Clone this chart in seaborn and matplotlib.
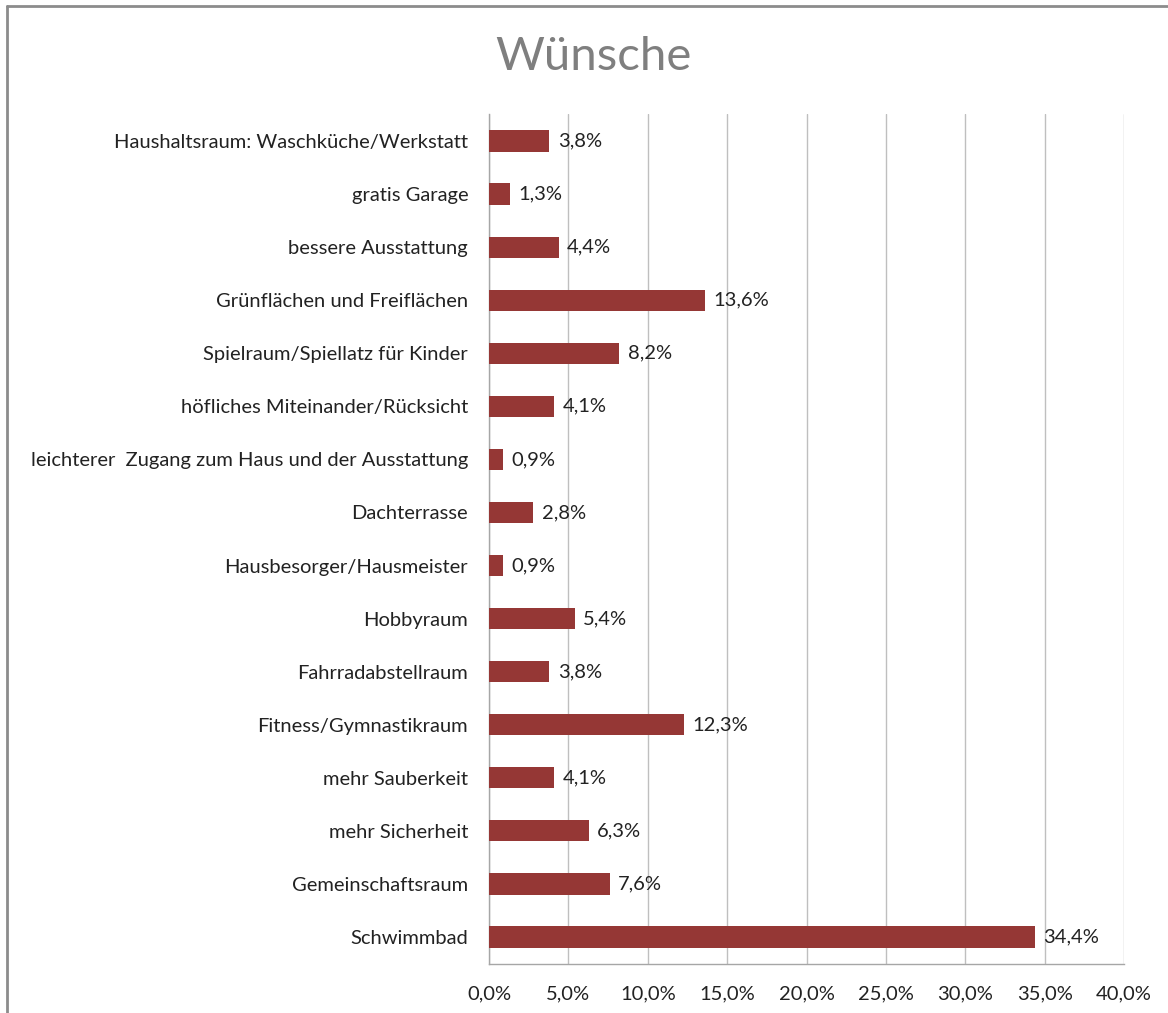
import matplotlib
matplotlib.use("Agg")
import matplotlib.pyplot as plt
import seaborn as sns
import pandas as pd
from matplotlib.ticker import FuncFormatter, MultipleLocator
from matplotlib.lines import Line2D

categories = [
    "Haushaltsraum: Waschküche/Werkstatt",
    "gratis Garage",
    "bessere Ausstattung",
    "Grünflächen und Freiflächen",
    "Spielraum/Spiellatz für Kinder",
    "höfliches Miteinander/Rücksicht",
    "leichterer  Zugang zum Haus und der Ausstattung",
    "Dachterrasse",
    "Hausbesorger/Hausmeister",
    "Hobbyraum",
    "Fahrradabstellraum",
    "Fitness/Gymnastikraum",
    "mehr Sauberkeit",
    "mehr Sicherheit",
    "Gemeinschaftsraum",
    "Schwimmbad",
]
values = [3.8, 1.3, 4.4, 13.6, 8.2, 4.1, 0.9, 2.8, 0.9, 5.4, 3.8, 12.3, 4.1, 6.3, 7.6, 34.4]
title = "Wünsche"

df = pd.DataFrame({"Kategorie": categories, "Anteil": values})

sns.set_theme(style="white")
plt.rcParams["font.family"] = ["Lato", "DejaVu Sans"]

fig = plt.figure(figsize=(11.68, 10.13), dpi=100)
ax = fig.add_axes([489 / 1168, 1 - 963.5 / 1013, (1124 - 489) / 1168, (963.5 - 114.5) / 1013])

sns.barplot(data=df, x="Anteil", y="Kategorie", order=categories, color="#953735",
            saturation=1, width=0.4, linewidth=0, ax=ax, zorder=3)

ax.set_xlim(0, 40)
ax.xaxis.set_major_locator(MultipleLocator(5))
ax.xaxis.set_major_formatter(FuncFormatter(lambda v, p: f"{v:.1f}%".replace(".", ",")))
ax.grid(axis="x", color="#BFBFBF", linewidth=1, zorder=0)
ax.set_axisbelow(True)
ax.set_xlabel("")
ax.set_ylabel("")
for side in ["top", "right"]:
    ax.spines[side].set_visible(False)
for side in ["left", "bottom"]:
    ax.spines[side].set_color("#A6A6A6")
    ax.spines[side].set_linewidth(1)
ax.tick_params(axis="both", length=0, labelsize=14.5, colors="#222222")
ax.tick_params(axis="x", pad=16)
ax.tick_params(axis="y", pad=15)

for c in ax.containers:
    ax.bar_label(c, labels=[f"{v:.1f}%".replace(".", ",") for v in values],
                 padding=6, fontsize=14.5, color="#222222")

fig.text(593 / 1168, 1 - 57 / 1013, title, ha="center", va="center", fontsize=34, color="#7F7F7F")

# chart frame (left and top edges visible)
fig.add_artist(Line2D([7 / 1168, 7 / 1168], [0, 1 - 6 / 1013], transform=fig.transFigure,
                      color="#8C8C8C", linewidth=2))
fig.add_artist(Line2D([7 / 1168, 1], [1 - 6 / 1013, 1 - 6 / 1013], transform=fig.transFigure,
                      color="#8C8C8C", linewidth=2))

fig.savefig("out.png", dpi=100)
